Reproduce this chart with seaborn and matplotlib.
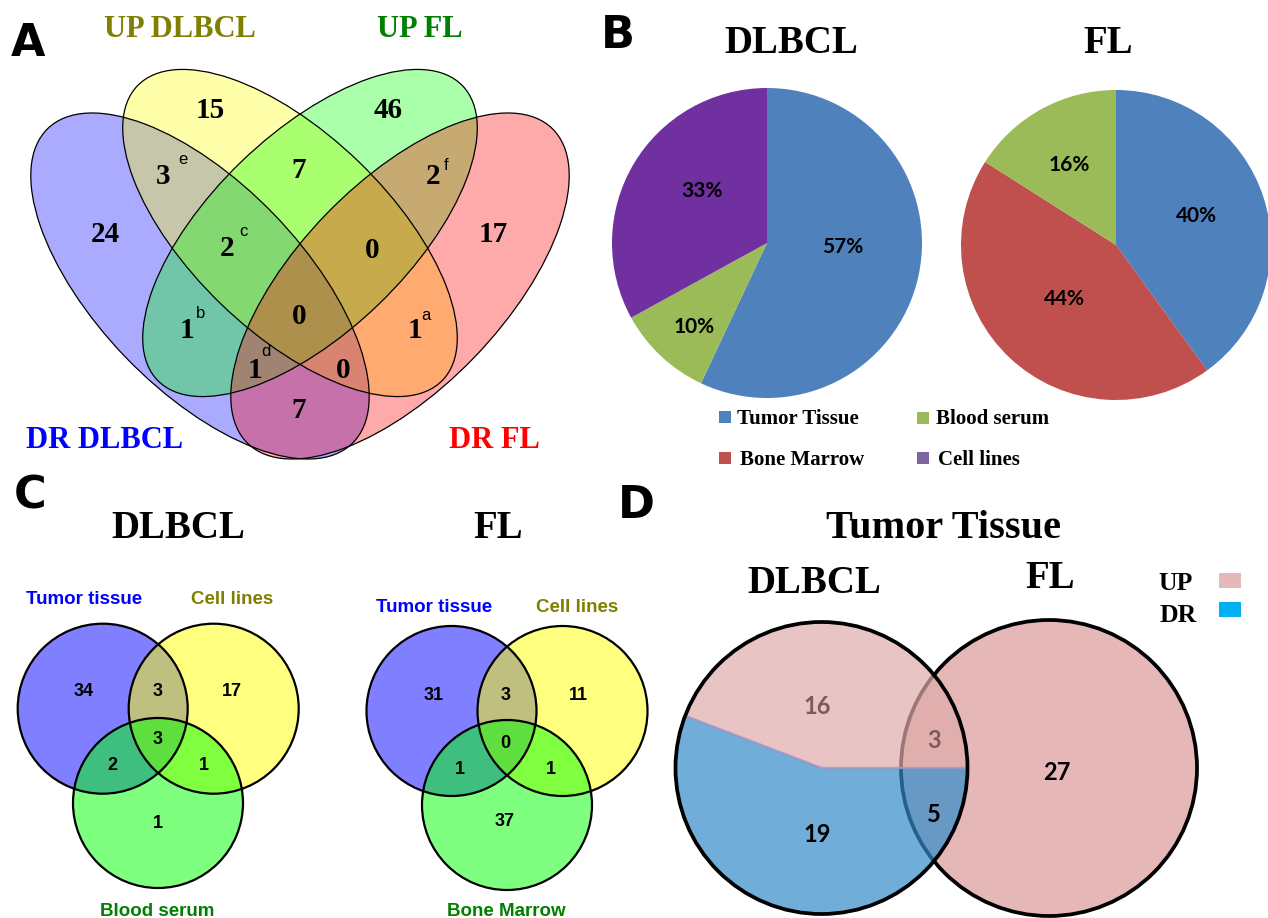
import matplotlib
matplotlib.use("Agg")
import matplotlib.pyplot as plt
from matplotlib.patches import Ellipse, Circle, Rectangle
import seaborn as sns

sns.set_theme(style="white")
plt.rcParams["font.family"] = ["DejaVu Sans"]

SERIF = "Liberation Serif"
SANS = "Liberation Sans"
ROUND = "Lato"

# ---------------- data ----------------
# Panel A: four-set Venn (membership order: DR DLBCL, UP DLBCL, UP FL, DR FL)
venn4_sets = ["DR DLBCL", "UP DLBCL", "UP FL", "DR FL"]
venn4_regions = ["1000", "0100", "0010", "0001", "1100", "0110", "0011",
                 "1110", "0111", "1111", "1010", "0101", "1011", "1101", "1001"]
venn4_counts = [24, 15, 46, 17, 3, 7, 2, 2, 0, 0, 1, 1, 1, 0, 7]
venn4_notes = ["", "", "", "", "e", "", "f", "c", "", "", "b", "a", "d", "", ""]

# Panel B: sample sources (%)
pie_dlbcl_sources = ["Tumor Tissue", "Blood serum", "Cell lines"]
pie_dlbcl_pct = [57, 10, 33]
pie_fl_sources = ["Tumor Tissue", "Bone Marrow", "Blood serum"]
pie_fl_pct = [40, 44, 16]
legend_sources = ["Tumor Tissue", "Bone Marrow", "Blood serum", "Cell lines"]

# Panel C: three-set Venn per lymphoma (membership: tumor, cell lines, third source)
venn3_sets_dlbcl = ["Tumor tissue", "Cell lines", "Blood serum"]
venn3_sets_fl = ["Tumor tissue", "Cell lines", "Bone Marrow"]
venn3_regions = ["100", "110", "010", "111", "101", "011", "001"]
venn3_dlbcl = [34, 3, 17, 3, 2, 1, 1]
venn3_fl = [31, 3, 11, 0, 1, 1, 37]

# Panel D: tumor tissue, DLBCL vs FL split by direction
tt_regions = ["DLBCL UP", "shared UP", "DLBCL DR", "shared DR", "FL"]
tt_counts = [16, 3, 19, 5, 27]

# ---------------- styling / layout ----------------
pie_colors = {"Tumor Tissue": "#4F81BD", "Bone Marrow": "#C0504D",
              "Blood serum": "#9BBB59", "Cell lines": "#7030A0"}
legend_colors = {"Tumor Tissue": "#4F81BD", "Bone Marrow": "#C0504D",
                 "Blood serum": "#9BBB59", "Cell lines": "#8064A2"}
venn4_fill = ["#0000FF", "#FFFF00", "#00FF00", "#FF0000"]
venn4_title_colors = ["#0000FF", "#808000", "#008000", "#FF0000"]
venn3_fill = ["#0000FF", "#FFFF00", "#00FF00"]
venn3_title_colors = ["#0000FF", "#808000", "#008000"]

W, H = 1268, 918
fig = plt.figure(figsize=(W / 100, H / 100), dpi=100)
ax = fig.add_axes([0, 0, 1, 1])
ax.set_facecolor("white")


def txt(x, y, s, size, color="black", family=SERIF, weight="bold",
        ha="center", va="center_baseline"):
    ax.text(x, y, s, fontsize=size, color=color, family=family,
            fontweight=weight, ha=ha, va=va, zorder=5)


# ---------------- panel A ----------------
# (centre, full width, full height, angle) with the y axis pointing down
ell_geom = [((200, 286), 438, 206, 46), ((290, 233), 424, 198, 44),
            ((310, 233), 424, 198, 136), ((400, 286), 438, 206, 134)]
for (c, w, h, ang), col in zip(ell_geom, venn4_fill):
    ax.add_patch(Ellipse(c, w, h, angle=ang, facecolor=col, alpha=1 / 3,
                         edgecolor="none"))
for c, w, h, ang in ell_geom:
    ax.add_patch(Ellipse(c, w, h, angle=ang, fill=False, edgecolor="black",
                         lw=0.9))

venn4_pos = {"1000": (105, 232), "0100": (210, 108), "0010": (388, 108),
             "0001": (493, 232), "1100": (163, 173), "0110": (299, 168),
             "0011": (433, 173), "1110": (227, 245), "0111": (372, 247),
             "1111": (299, 313), "1010": (187, 328), "0101": (415, 328),
             "1011": (255, 367), "1101": (343, 367), "1001": (299, 408)}
note_pos = {"e": (183, 160), "f": (446, 165), "c": (243, 232),
            "b": (201, 313), "a": (426, 315), "d": (266, 352)}
for reg, cnt, note in zip(venn4_regions, venn4_counts, venn4_notes):
    x, y = venn4_pos[reg]
    txt(x, y, str(cnt), 21)
    if note:
        nx, ny = note_pos[note]
        txt(nx, ny, note, 12, family=SANS, weight="normal", va="center")

venn4_title_pos = [(105, 448), (180, 37), (420, 37), (494, 448)]
for name, (x, y), col in zip(venn4_sets, venn4_title_pos, venn4_title_colors):
    txt(x, y, name, 22, color=col, va="baseline")

# ---------------- panel B ----------------
def draw_pie(values, sources, center):
    ax.pie(values, colors=[pie_colors[s] for s in sources], center=center,
           radius=155, startangle=-90, counterclock=True, frame=True,
           wedgeprops=dict(linewidth=0))

draw_pie(pie_dlbcl_pct, pie_dlbcl_sources, (767, 243))
draw_pie(pie_fl_pct, pie_fl_sources, (1116, 245))

pct_pos_dlbcl = [(843, 245), (694, 325), (702, 189)]
pct_pos_fl = [(1196, 214), (1064, 297), (1069, 163)]
for v, (x, y) in zip(pie_dlbcl_pct, pct_pos_dlbcl):
    txt(x, y, f"{v}%", 15, family=ROUND)
for v, (x, y) in zip(pie_fl_pct, pct_pos_fl):
    txt(x, y, f"{v}%", 15, family=ROUND)

txt(791, 53, "DLBCL", 28, va="baseline")
txt(1108, 53, "FL", 28, va="baseline")

legend_pos = {"Tumor Tissue": (719, 411, 737, 424),
              "Bone Marrow": (719, 452, 740, 465),
              "Blood serum": (917, 412, 936, 424),
              "Cell lines": (917, 452, 938, 465)}
for s in legend_sources:
    sx, sy, tx, ty = legend_pos[s]
    ax.add_patch(Rectangle((sx, sy), 12, 12, facecolor=legend_colors[s],
                           edgecolor="none"))
    txt(tx, ty, s, 15, ha="left", va="baseline")

# ---------------- panel C ----------------
def draw_venn3(centers, counts, sets, label_pos, count_pos):
    for c, col in zip(centers, venn3_fill):
        ax.add_patch(Circle(c, 85, facecolor=col, alpha=0.5, edgecolor="none"))
    for c in centers:
        ax.add_patch(Circle(c, 85, fill=False, edgecolor="black", lw=1.6))
    for reg, cnt in zip(venn3_regions, counts):
        x, y = count_pos[reg]
        txt(x, y, str(cnt), 13, family=SANS)
    for name, (x, y), col in zip(sets, label_pos, venn3_title_colors):
        txt(x, y, name, 13.5, color=col, family=SANS)

draw_venn3([(102.7, 708.7), (213.7, 708.7), (158, 803)], venn3_dlbcl,
           venn3_sets_dlbcl, [(84.5, 598), (231.7, 598), (156.7, 909)],
           {"100": (84, 690), "110": (158, 690), "010": (232, 690),
            "111": (158, 738), "101": (112, 764), "011": (204, 764),
            "001": (158, 821)})
draw_venn3([(451.5, 711), (562.5, 711), (507, 805)], venn3_fl,
           venn3_sets_fl, [(434, 605), (577, 605), (506, 910)],
           {"100": (434, 693), "110": (505.5, 693), "010": (578, 693),
            "111": (505, 742), "101": (460, 767), "011": (551, 767),
            "001": (505, 820)})

txt(178, 538, "DLBCL", 28, va="baseline")
txt(498, 538, "FL", 28, va="baseline")

# ---------------- panel D ----------------
ax.add_patch(Circle((1049, 768), 148, facecolor="#E5B8B7", edgecolor="black",
                    lw=2.7))
dlbcl_up = tt_counts[0] + tt_counts[1]
dlbcl_dr = tt_counts[2] + tt_counts[3]
ax.pie([dlbcl_up, dlbcl_dr], colors=["#E0ABAB", "#338BCA"], center=(821.5, 768),
       radius=146, startangle=0, counterclock=False, frame=True,
       wedgeprops=dict(alpha=0.7, edgecolor="#A99BC4", linewidth=1.6))
ax.add_patch(Circle((821.5, 768), 146, fill=False, edgecolor="black", lw=2.7))

tt_pos = [(817, 705), (934, 738), (817, 832), (934, 812), (1057, 770)]
tt_col = ["#7B5B5B", "#7B5B5B", "black", "black", "black"]
for cnt, (x, y), col in zip(tt_counts, tt_pos, tt_col):
    txt(x, y, str(cnt), 17, color=col, family=ROUND)

txt(944, 538, "Tumor Tissue", 29, va="baseline")
txt(814, 593, "DLBCL", 28, va="baseline")
txt(1050, 588, "FL", 28, va="baseline")

ax.add_patch(Rectangle((1219, 573), 22, 15, facecolor="#E6B9B8", edgecolor="none"))
ax.add_patch(Rectangle((1219, 602), 22, 15, facecolor="#00B0F0", edgecolor="none"))
txt(1158, 590, "UP", 18.5, ha="left", va="baseline")
txt(1160, 622, "DR", 18.5, ha="left", va="baseline")

# ---------------- panel letters ----------------
for letter, (x, y) in zip("ABCD", [(28, 44), (618, 36), (30, 496), (636, 505)]):
    txt(x, y, letter, 32, family="DejaVu Sans", va="center")

ax.set_xlim(0, W)
ax.set_ylim(H, 0)
ax.set_aspect("auto")
ax.axis("off")
fig.savefig("out.png", dpi=100)
